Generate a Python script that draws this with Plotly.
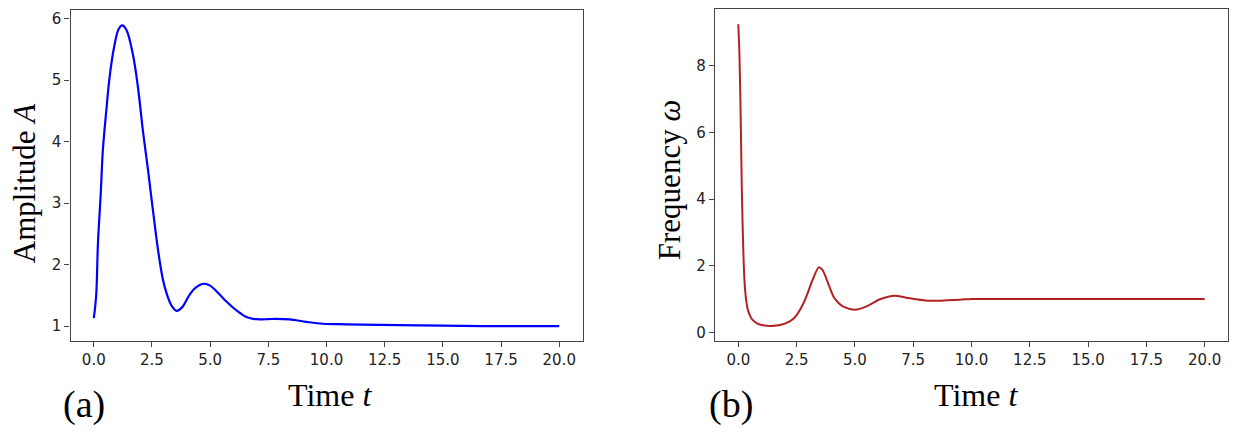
import plotly.graph_objects as go
from plotly.subplots import make_subplots

# values
t_amp = [0.0, 0.05, 0.11, 0.18, 0.30, 0.39, 0.54, 0.68, 0.87, 1.07, 1.22, 1.40, 1.68, 1.90, 2.11, 2.33,
         2.54, 2.76, 2.97, 3.15, 3.35, 3.56, 3.80, 4.05, 4.30, 4.55, 4.75, 5.00, 5.42, 5.70, 5.99, 6.30,
         6.56, 6.85, 7.13, 7.50, 7.85, 8.42, 9.14, 9.85, 10.85, 12.3, 15.0, 17.5, 20.0]
amplitude = [1.13, 1.28, 1.54, 2.35, 3.16, 3.86, 4.51, 5.05, 5.53, 5.83, 5.89, 5.82, 5.42, 4.88, 4.18, 3.54,
             2.89, 2.24, 1.76, 1.51, 1.33, 1.25, 1.31, 1.47, 1.60, 1.67, 1.69, 1.66, 1.51, 1.40, 1.30, 1.21,
             1.15, 1.12, 1.11, 1.115, 1.12, 1.11, 1.07, 1.04, 1.03, 1.02, 1.01, 1.00, 1.00]

t_freq = [0.0, 0.05, 0.10, 0.15, 0.20, 0.25, 0.30, 0.40, 0.50, 0.60, 0.80, 1.0, 1.4, 2.0, 2.4, 2.8, 3.2,
          3.45, 3.6, 3.75, 3.9, 4.1, 4.3, 4.5, 5.0, 5.5, 6.1, 6.7, 7.2, 8.1, 9.5, 10.0, 12.0, 15.0, 20.0]
frequency = [9.25, 8.3, 6.5, 4.3, 2.8, 1.75, 1.2, 0.70, 0.50, 0.38, 0.27, 0.22, 0.19, 0.26, 0.43, 0.88, 1.60,
             1.95, 1.88, 1.66, 1.38, 1.05, 0.88, 0.77, 0.68, 0.78, 1.00, 1.10, 1.04, 0.95, 0.98, 1.00, 1.00,
             1.00, 1.00]

W, H = 1238, 433
off = 8  # page margin of the browser

fig = make_subplots(rows=1, cols=2)
fig.add_trace(go.Scatter(x=t_amp, y=amplitude, mode='lines',
                         line=dict(color='#0000ff', width=2.2, shape='spline', smoothing=1.0)), row=1, col=1)
fig.add_trace(go.Scatter(x=t_freq, y=frequency, mode='lines',
                         line=dict(color='#b22222', width=2.0, shape='spline', smoothing=0.8)), row=1, col=2)

axis_style = dict(showline=True, mirror=True, linecolor='#444', linewidth=1.2, ticks='outside', ticklen=5,
                  tickcolor='#444', showgrid=False, zeroline=False,
                  tickfont=dict(family='DejaVu Sans', size=15, color='#222'))

fig.update_xaxes(axis_style)
fig.update_yaxes(axis_style)
fig.update_xaxes(range=[-1, 21], tick0=0, dtick=2.5, tickformat='.1f')
fig.update_layout(
    xaxis=dict(domain=[(70.5 - off) / W, (582.5 - off) / W]),
    xaxis2=dict(domain=[(715 - off) / W, (1228 - off) / W]),
    yaxis=dict(domain=[1 - (341.5 - off) / H, 1 - (9 - off) / H], range=[0.76, 6.14], dtick=1),
    yaxis2=dict(domain=[1 - (341.5 - off) / H, 1 - (8.3 - off) / H], range=[-0.26, 9.70], dtick=2),
)

# axis titles and panel letters placed like the figure
labels = [
    (24, 183, 'Amplitude <i>A</i>', -90, 31),
    (669, 180, 'Frequency <i>ω</i>', -90, 31),
    (330, 396, 'Time <i>t</i>', 0, 32),
    (976, 396, 'Time <i>t</i>', 0, 32),
    (84, 405, '(a)', 0, 38),
    (731, 405, '(b)', 0, 38),
]
for px, py, text, angle, size in labels:
    fig.add_annotation(x=(px - off) / W, y=1 - (py - off) / H, xref='paper', yref='paper', text=text,
                       showarrow=False, textangle=angle, xanchor='center', yanchor='middle',
                       font=dict(family='Liberation Serif', size=size, color='black'))

fig.update_layout(width=W, height=H, margin=dict(l=0, r=0, t=0, b=0), showlegend=False,
                  plot_bgcolor='white', paper_bgcolor='white')

fig.write_html("out.html")
